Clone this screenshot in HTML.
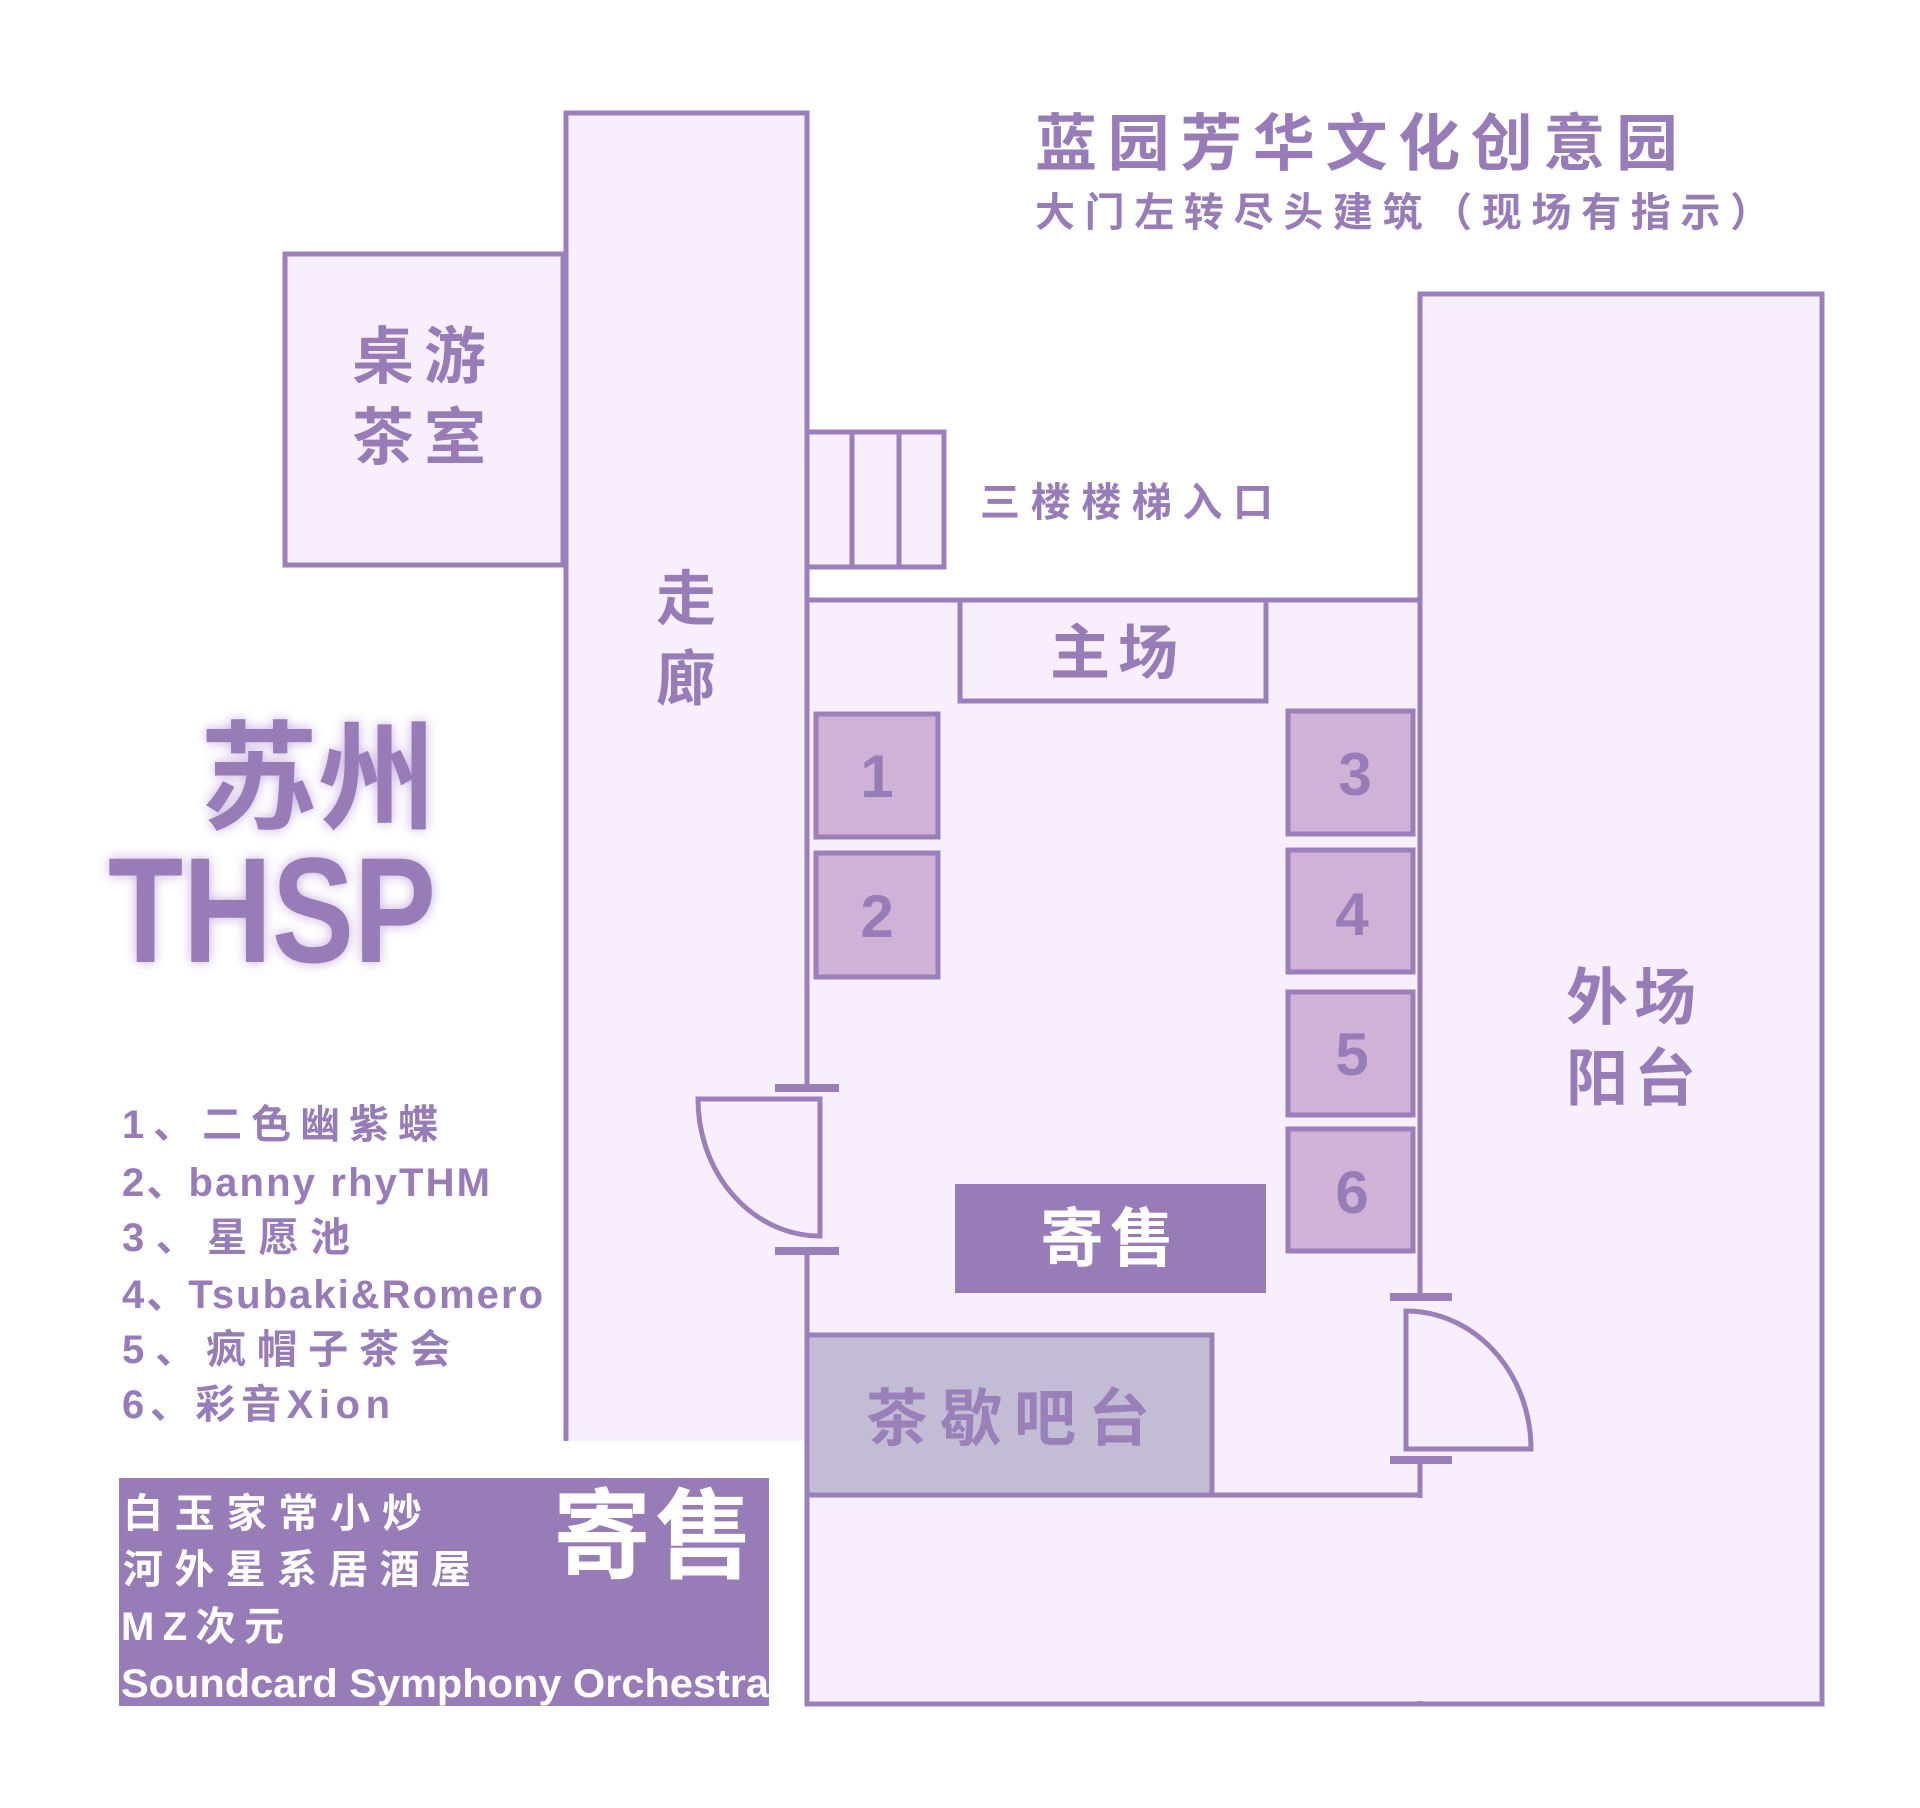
<!DOCTYPE html>
<html><head><meta charset="utf-8"><style>
html,body{margin:0;padding:0;background:#fff;}
svg{display:block}
text{font-family:"Liberation Sans","Noto Sans CJK SC",sans-serif;font-weight:bold;}
</style></head><body>
<svg width="1920" height="1808" viewBox="0 0 1920 1808" xmlns="http://www.w3.org/2000/svg">
<defs><filter id="gl" x="-20%" y="-20%" width="140%" height="140%"><feGaussianBlur stdDeviation="6"/></filter></defs>
<g stroke="#9b7fbb" stroke-width="5" fill="#f7f0fc">
<rect x="807" y="600" width="613" height="1104" stroke="none"/>
<rect x="566" y="113" width="241" height="1328" stroke="none"/>
<path d="M566 1441 V113 H807 V1704" fill="none"/>
<rect x="1420" y="294" width="402" height="1410"/>
<path d="M807 1495 V1704 H1822" fill="none"/>
<rect x="285" y="254" width="278" height="311"/>
<rect x="807" y="432" width="137" height="135"/>
<line x1="852" y1="432" x2="852" y2="567"/><line x1="899" y1="432" x2="899" y2="567"/>
<line x1="807" y1="600" x2="1420" y2="600"/>
<line x1="807" y1="1495" x2="1420" y2="1495"/>
<rect x="960" y="600" width="306" height="101"/>
</g>
<rect x="804" y="1087" width="7" height="164" fill="#f7f0fc"/>
<rect x="1416" y="1297" width="8" height="163" fill="#f7f0fc"/>
<rect x="1416" y="1498" width="8" height="203" fill="#f7f0fc"/>
<g stroke="#9b7fbb" fill="none">
<rect x="775" y="1084" width="64" height="8" fill="#9b7fbb" stroke="none"/>
<rect x="775" y="1247" width="64" height="8" fill="#9b7fbb" stroke="none"/>
<path d="M698 1099 H820 V1236 A122 137 0 0 1 698 1099 Z" stroke-width="5" fill="#f7f0fc"/>
<rect x="1390" y="1293" width="62" height="8" fill="#9b7fbb" stroke="none"/>
<rect x="1390" y="1456" width="62" height="8" fill="#9b7fbb" stroke="none"/>
<path d="M1406 1311 V1449 H1531 A125 138 0 0 0 1406 1311 Z" stroke-width="5" fill="#f7f0fc"/>
</g>
<g fill="#d0b2d6" stroke="#9b7fbb" stroke-width="5">
<rect x="816" y="714" width="122" height="123"/>
<rect x="816" y="853" width="122" height="124"/>
<rect x="1288" y="711" width="125" height="123"/>
<rect x="1288" y="850" width="125" height="122"/>
<rect x="1288" y="992" width="125" height="123"/>
<rect x="1288" y="1129" width="125" height="122"/>
<rect x="807" y="1335" width="405" height="160" fill="#c2bdd5"/>
</g>
<rect x="955" y="1184" width="311" height="109" fill="#977cb7"/>
<rect x="119" y="1478" width="650" height="228" fill="#977cb7"/>
<g fill="#977cb7" text-anchor="middle" font-size="60">
<text x="877" y="797">1</text><text x="877" y="937">2</text>
<text x="1355" y="795">3</text><text x="1352" y="935">4</text>
<text x="1352" y="1075">5</text><text x="1352" y="1213">6</text>
<text x="424" y="378" font-size="62" letter-spacing="10">桌游</text>
<text x="424" y="459" font-size="62" letter-spacing="10">茶室</text>
<text x="686" y="620" font-size="60">走</text>
<text x="686" y="700" font-size="60">廊</text>
<text x="1118" y="674" font-size="60" letter-spacing="8">主场</text>
<text x="1634" y="1019" font-size="62" letter-spacing="6">外场</text>
<text x="1634" y="1100" font-size="62" letter-spacing="6">阳台</text>
<text x="1014" y="1440" font-size="62" fill="#9a80b8" letter-spacing="12">茶歇吧台</text>
</g>
<text x="1110" y="1261" font-size="64" fill="#fff" text-anchor="middle" letter-spacing="6">寄售</text>
<g fill="#977cb7">
<text x="1035" y="165" font-size="62" textLength="643" lengthAdjust="spacing">蓝园芳华文化创意园</text>
<text x="1035" y="226" font-size="40" textLength="735" lengthAdjust="spacing">大门左转尽头建筑（现场有指示）</text>
<text x="980" y="516" font-size="40" textLength="293" lengthAdjust="spacing">三楼楼梯入口</text>
<g font-size="40">
<text x="122" y="1138" textLength="316" lengthAdjust="spacing">1、二色幽紫蝶</text>
<text x="122" y="1196" textLength="368" lengthAdjust="spacing">2、banny rhyTHM</text>
<text x="122" y="1251" textLength="228" lengthAdjust="spacing">3、星愿池</text>
<text x="122" y="1308" textLength="421" lengthAdjust="spacing">4、Tsubaki&amp;Romero</text>
<text x="122" y="1363" textLength="328" lengthAdjust="spacing">5、疯帽子茶会</text>
<text x="122" y="1418" textLength="268" lengthAdjust="spacing">6、彩音Xion</text>
</g>
</g>
<g fill="#fff" font-size="40">
<text x="123" y="1527" textLength="299" lengthAdjust="spacing">白玉家常小炒</text>
<text x="123" y="1583" textLength="348" lengthAdjust="spacing">河外星系居酒屋</text>
<text x="121" y="1640" textLength="163" lengthAdjust="spacing">MZ次元</text>
<text x="121" y="1697" textLength="648" lengthAdjust="spacingAndGlyphs">Soundcard Symphony Orchestra</text>
<text x="655" y="1570" font-size="98" text-anchor="middle" letter-spacing="4">寄售</text>
</g>
<g fill="#b89ad6" filter="url(#gl)" opacity="0.8">
<text x="200" y="820" font-size="118">苏州</text>
<text x="108" y="962" font-size="150" textLength="328" lengthAdjust="spacingAndGlyphs">THSP</text>
</g>
<g fill="#977cb7">
<text x="200" y="820" font-size="118">苏州</text>
<text x="108" y="962" font-size="150" textLength="328" lengthAdjust="spacingAndGlyphs">THSP</text>
</g>
</svg>
</body></html>
